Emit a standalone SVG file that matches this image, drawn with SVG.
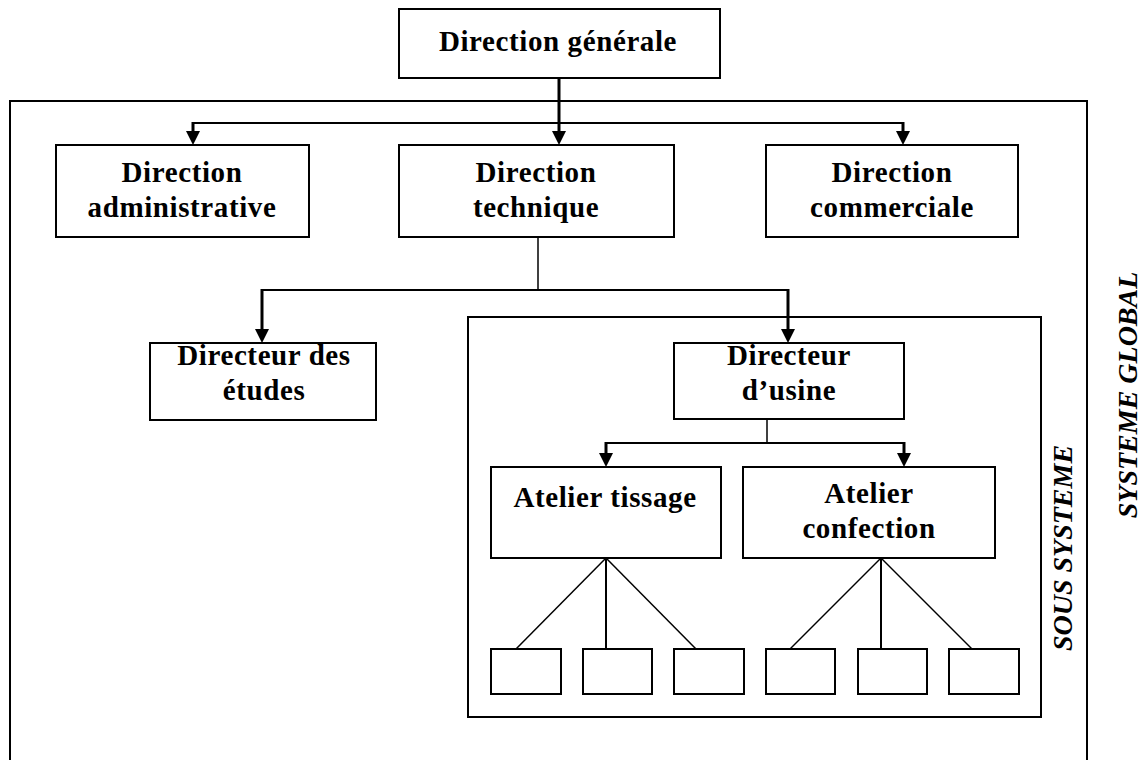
<svg xmlns="http://www.w3.org/2000/svg" width="1143" height="760" viewBox="0 0 1143 760">
<style>
.box{fill:#fff;stroke:#000;stroke-width:2}
.frame{fill:none;stroke:#000;stroke-width:2}
.t{font-family:"Liberation Serif","Times New Roman",serif;font-weight:bold;font-size:29px;letter-spacing:0.6px;fill:#000;text-anchor:middle}
.v{font-family:"Liberation Serif","Times New Roman",serif;font-weight:bold;font-style:italic;font-size:28px;fill:#000;text-anchor:middle}
.ln{stroke:#000;stroke-width:2;fill:none}
.thin{stroke:#000;stroke-width:1.5;fill:none}
.stem{stroke:#000;stroke-width:3;fill:none}
.ah{fill:#000}
</style>
<defs>
<polygon id="arr" points="-7,-14 7,-14 0,0"/>
</defs>
<g id="frames">
<path class="frame" d="M10,770 V101 H1087 V770"/>
<rect class="frame" x="468" y="317" width="573" height="400"/>
<text class="v" transform="translate(1072,548) rotate(-90)">SOUS  SYSTEME</text>
<text class="v" transform="translate(1137,395) rotate(-90)">SYSTEME GLOBAL</text>
</g>
<g id="connectors">
<line class="stem" x1="559" y1="78" x2="559" y2="133"/>
<line class="ln" x1="193" y1="123" x2="903" y2="123"/>
<line class="stem" x1="193" y1="122" x2="193" y2="133"/>
<line class="stem" x1="903" y1="122" x2="903" y2="133"/>
<use href="#arr" class="ah" x="193" y="145"/>
<use href="#arr" class="ah" x="559" y="145"/>
<use href="#arr" class="ah" x="903" y="145"/>
<line class="thin" x1="538" y1="237" x2="538" y2="290"/>
<line class="ln" x1="262" y1="290" x2="788" y2="290"/>
<line class="stem" x1="262" y1="289" x2="262" y2="331"/>
<line class="stem" x1="788" y1="289" x2="788" y2="331"/>
<use href="#arr" class="ah" x="262" y="343"/>
<use href="#arr" class="ah" x="788" y="343"/>
<line class="thin" x1="767" y1="419" x2="767" y2="443"/>
<line class="ln" x1="606" y1="443" x2="904" y2="443"/>
<line class="stem" x1="606" y1="442" x2="606" y2="455"/>
<line class="stem" x1="904" y1="442" x2="904" y2="455"/>
<use href="#arr" class="ah" x="606" y="467"/>
<use href="#arr" class="ah" x="904" y="467"/>
<line class="thin" x1="606" y1="558" x2="516" y2="649"/>
<line class="ln" x1="606" y1="558" x2="606" y2="649"/>
<line class="thin" x1="606" y1="558" x2="696" y2="649"/>
<line class="thin" x1="881" y1="558" x2="790" y2="649"/>
<line class="ln" x1="881" y1="558" x2="881" y2="649"/>
<line class="thin" x1="881" y1="558" x2="972" y2="649"/>
</g>
<g id="n-dg"><rect class="box" x="399" y="9" width="321" height="69"/><text class="t" x="558" y="51">Direction générale</text></g>
<g id="n-adm"><rect class="box" x="56" y="145" width="253" height="92"/><text class="t" x="182" y="182">Direction</text><text class="t" x="182" y="217">administrative</text></g>
<g id="n-tech"><rect class="box" x="399" y="145" width="275" height="92"/><text class="t" x="536" y="182">Direction</text><text class="t" x="536" y="217">technique</text></g>
<g id="n-com"><rect class="box" x="766" y="145" width="252" height="92"/><text class="t" x="892" y="182">Direction</text><text class="t" x="892" y="217">commerciale</text></g>
<g id="n-etudes"><rect class="box" x="150" y="343" width="226" height="77"/><text class="t" x="264" y="365">Directeur des</text><text class="t" x="264" y="400">études</text></g>
<g id="n-usine"><rect class="box" x="674" y="343" width="230" height="76"/><text class="t" x="789" y="365">Directeur</text><text class="t" x="789" y="400">d’usine</text></g>
<g id="n-tissage"><rect class="box" x="491" y="467" width="230" height="91"/><text class="t" x="605" y="507">Atelier tissage</text></g>
<g id="n-confection"><rect class="box" x="743" y="467" width="252" height="91"/><text class="t" x="869" y="503">Atelier</text><text class="t" x="869" y="538">confection</text></g>
<g id="n-s1"><rect class="box" x="491" y="649" width="70" height="45"/></g>
<g id="n-s2"><rect class="box" x="583" y="649" width="69" height="45"/></g>
<g id="n-s3"><rect class="box" x="674" y="649" width="70" height="45"/></g>
<g id="n-s4"><rect class="box" x="766" y="649" width="69" height="45"/></g>
<g id="n-s5"><rect class="box" x="858" y="649" width="69" height="45"/></g>
<g id="n-s6"><rect class="box" x="949" y="649" width="70" height="45"/></g>
</svg>
